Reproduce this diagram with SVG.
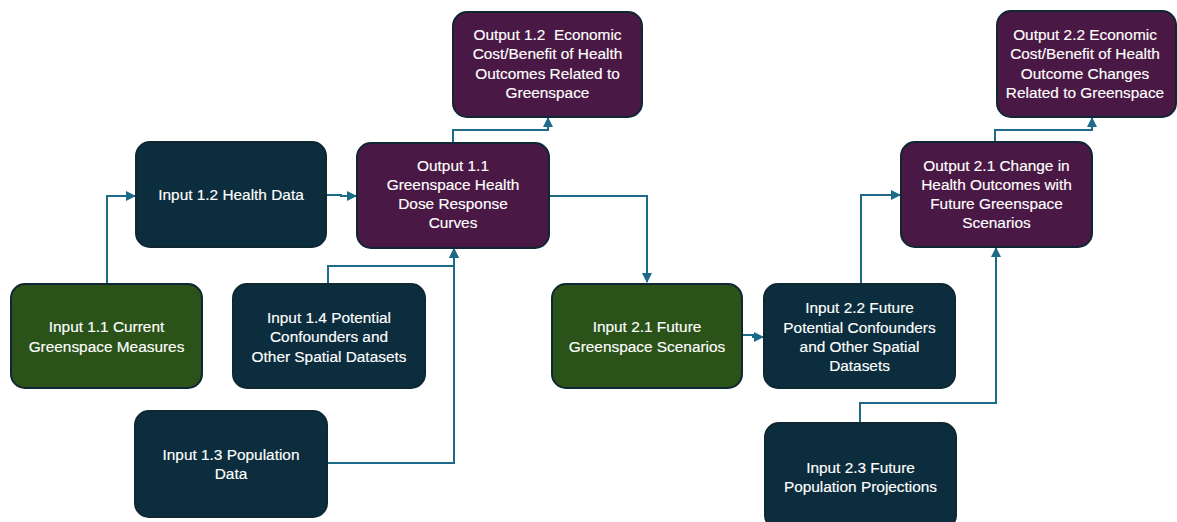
<svg xmlns="http://www.w3.org/2000/svg" width="1177" height="522" viewBox="0 0 1177 522">
<defs>
<style>
.box{stroke:#0f2633;stroke-width:2}
.teal{fill:#0c2d3d}
.green{fill:#2a5219}
.purple{fill:#4a1844}
.t{font-family:"Liberation Sans",Arial,sans-serif;font-size:15.4px;fill:#ffffff;text-anchor:middle;stroke:#ffffff;stroke-width:0.15}
.c{fill:none;stroke:#1d6a89;stroke-width:2}
</style>
<marker id="ah" viewBox="0 0 10 10" refX="9" refY="5" markerWidth="5" markerHeight="5" orient="auto" markerUnits="strokeWidth">
<path d="M0,0 L10,5 L0,10 z" fill="#1d6a89"/>
</marker>
</defs>
<rect width="1177" height="522" fill="#ffffff"/>
<g id="connectors">
<path class="c" d="M107,283 V196 H135" marker-end="url(#ah)"/>
<path class="c" d="M326,195 H341 V196 H356" marker-end="url(#ah)"/>
<path class="c" d="M453,143 V130 H548 V118" marker-end="url(#ah)"/>
<path class="c" d="M549,196 H647 V282" marker-end="url(#ah)"/>
<path class="c" d="M328,283 V266 H454 V249" marker-end="url(#ah)"/>
<path class="c" d="M327,463 H454 V249" marker-end="url(#ah)"/>
<path class="c" d="M742,335 H753 V337 H763" marker-end="url(#ah)"/>
<path class="c" d="M861,283 V195 H900" marker-end="url(#ah)"/>
<path class="c" d="M860,423 V403 H996 V248" marker-end="url(#ah)"/>
<path class="c" d="M995,142 V130 H1092 V118" marker-end="url(#ah)"/>
</g>
<g id="input11">
<rect class="box green" x="11" y="284" width="191" height="104" rx="14"/>
<text class="t" x="106.5" y="332">Input 1.1 Current</text>
<text class="t" x="106.5" y="352">Greenspace Measures</text>
</g>
<g id="input12">
<rect class="box teal" x="136" y="142" width="190" height="105" rx="14"/>
<text class="t" x="231" y="200">Input 1.2 Health Data</text>
</g>
<g id="input13">
<rect class="box teal" x="135" y="411" width="192" height="106" rx="14"/>
<text class="t" x="231" y="460">Input 1.3 Population</text>
<text class="t" x="231" y="479">Data</text>
</g>
<g id="input14">
<rect class="box teal" x="233" y="284" width="192" height="104" rx="14"/>
<text class="t" x="329" y="323">Input 1.4 Potential</text>
<text class="t" x="329" y="342">Confounders and</text>
<text class="t" x="329" y="362">Other Spatial Datasets</text>
</g>
<g id="output11">
<rect class="box purple" x="357" y="143" width="192" height="105" rx="14"/>
<text class="t" x="453" y="171">Output 1.1</text>
<text class="t" x="453" y="190">Greenspace Health</text>
<text class="t" x="453" y="209">Dose Response</text>
<text class="t" x="453" y="228">Curves</text>
</g>
<g id="output12">
<rect class="box purple" x="453" y="12" width="189" height="105" rx="14"/>
<text class="t" x="547.5" y="40">Output 1.2&#160; Economic</text>
<text class="t" x="547.5" y="59">Cost/Benefit of Health</text>
<text class="t" x="547.5" y="79">Outcomes Related to</text>
<text class="t" x="547.5" y="98">Greenspace</text>
</g>
<g id="input21">
<rect class="box green" x="552" y="284" width="190" height="104" rx="14"/>
<text class="t" x="647" y="332">Input 2.1 Future</text>
<text class="t" x="647" y="352">Greenspace Scenarios</text>
</g>
<g id="input22">
<rect class="box teal" x="764" y="284" width="191" height="104" rx="14"/>
<text class="t" x="859.5" y="313">Input 2.2 Future</text>
<text class="t" x="859.5" y="333">Potential Confounders</text>
<text class="t" x="859.5" y="352">and Other Spatial</text>
<text class="t" x="859.5" y="371">Datasets</text>
</g>
<g id="input23">
<rect class="box teal" x="765" y="423" width="191" height="106" rx="14"/>
<text class="t" x="860.5" y="473">Input 2.3 Future</text>
<text class="t" x="860.5" y="492">Population Projections</text>
</g>
<g id="output21">
<rect class="box purple" x="901" y="142" width="191" height="105" rx="14"/>
<text class="t" x="996.5" y="171">Output 2.1 Change in</text>
<text class="t" x="996.5" y="190">Health Outcomes with</text>
<text class="t" x="996.5" y="209">Future Greenspace</text>
<text class="t" x="996.5" y="228">Scenarios</text>
</g>
<g id="output22">
<rect class="box purple" x="997" y="11" width="179" height="106" rx="14"/>
<text class="t" x="1085" y="40">Output 2.2 Economic</text>
<text class="t" x="1085" y="59">Cost/Benefit of Health</text>
<text class="t" x="1085" y="79">Outcome Changes</text>
<text class="t" x="1085" y="98">Related to Greenspace</text>
</g>
</svg>
